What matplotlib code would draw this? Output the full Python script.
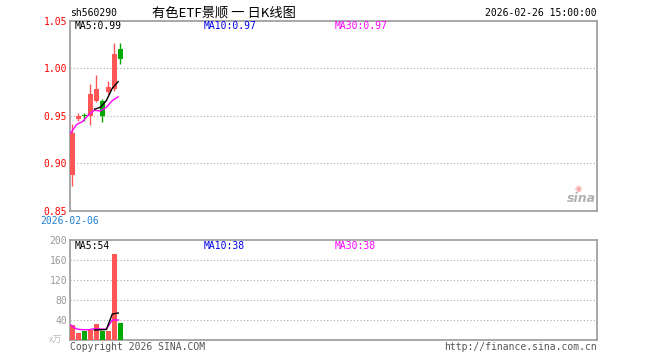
import matplotlib
matplotlib.use("Agg")
import matplotlib.pyplot as plt
import numpy as np

# ---- data ----
first_date = "2026-02-06"
opens  = [0.8875, 0.947, 0.9505, 0.950, 0.9656, 0.9656, 0.975, 0.9778, 1.0205]
closes = [0.932, 0.950, 0.9495, 0.9726, 0.978, 0.950, 0.980, 1.0153, 1.0098]
highs  = [0.941, 0.953, 0.953, 0.983, 0.9934, 0.9674, 0.9865, 1.0265, 1.027]
lows   = [0.876, 0.945, 0.945, 0.940, 0.9646, 0.9434, 0.9726, 0.976, 1.0046]
ma5_price  = [np.nan, np.nan, np.nan, np.nan, 0.957, 0.959, 0.966, 0.979, 0.986]
ma30_price = [0.932, 0.941, 0.944, 0.951, 0.956, 0.955, 0.959, 0.966, 0.970]
volumes  = [30, 14, 19, 20, 32, 19, 18, 172, 34]
ma5_vol  = [np.nan, np.nan, np.nan, np.nan, 20, 20.5, 21, 52, 54]
ma30_vol = [30, 22, 20.5, 20.5, 22.5, 22, 21.5, 40, 40]
price_ticks = [0.85, 0.90, 0.95, 1.00, 1.05]
vol_ticks = [40, 80, 120, 160, 200]
labels_price = ("MA5:0.99", "MA10:0.97", "MA30:0.97")
labels_vol = ("MA5:54", "MA10:38", "MA30:38")

RED = "#FF5555"
GREEN = "#00A800"
MONO = "DejaVu Sans Mono"
CJK = ["Noto Sans CJK SC", "DejaVu Sans"]
FS = 7

W, H = 660, 360
fig = plt.figure(figsize=(6.6, 3.6), dpi=100)

def fx(px): return px / W
def fy(py): return 1 - py / H

ax = fig.add_axes([fx(70), fy(211), fx(527), (211 - 20.7) / H])
axv = fig.add_axes([fx(70), fy(340), fx(527), 100 / H])

n = len(opens)
x = np.arange(n)
xlim = (-0.42, -0.42 + 527 / 5.94)

for a in (ax, axv):
    a.set_xlim(*xlim)
    for s in a.spines.values():
        s.set_color("#999999")
        s.set_linewidth(1.2)
    a.tick_params(axis="x", length=0, labelbottom=False)
    a.tick_params(axis="y", length=0, pad=2)

# price panel
ax.set_ylim(0.85, 1.05)
ax.set_yticks(price_ticks)
ax.set_yticklabels([f"{v:.2f}" for v in price_ticks], color="#FF0000",
                   fontfamily=MONO, fontsize=FS)
for g in price_ticks[1:-1]:
    ax.axhline(g, color="#AAAAAA", lw=0.8, ls=(0, (1, 2)), zorder=0)

bw = 0.84
for i in range(n):
    up = closes[i] >= opens[i] and not (i == 2)
    c = RED if up else GREEN
    ax.vlines(x[i], lows[i], highs[i], color=c, lw=1.0, zorder=2)
    lo = min(opens[i], closes[i]); hi = max(opens[i], closes[i])
    hgt = max(hi - lo, 0.0008)
    ax.bar(x[i], hgt, bottom=lo, width=bw, color=c, linewidth=0, zorder=3)

shift = -0.3
ax.plot(x + shift, ma30_price, color="#FF00FF", lw=1.0, zorder=4)
ax.plot(x + shift, ma5_price, color="black", lw=1.0, zorder=5)

# volume panel
axv.set_ylim(0, 200)
axv.set_yticks(vol_ticks)
axv.set_yticklabels([str(v) for v in vol_ticks], color="#999999",
                    fontfamily=MONO, fontsize=FS)
for g in vol_ticks[:-1]:
    axv.axhline(g, color="#AAAAAA", lw=0.8, ls=(0, (1, 2)), zorder=0)
vcolors = [RED if (closes[i] >= opens[i] and i != 2) else GREEN for i in range(n)]
axv.bar(x, volumes, width=bw, color=vcolors, linewidth=0, zorder=3)
axv.plot(x + shift, ma30_vol, color="#FF00FF", lw=1.0, zorder=4)
axv.plot(x + shift, ma5_vol, color="black", lw=1.0, zorder=5)

# texts
def t(px, py, s, **kw):
    kw.setdefault("fontfamily", MONO)
    kw.setdefault("fontsize", FS)
    kw.setdefault("va", "center")
    fig.text(fx(px), fy(py), s, **kw)

t(70, 13, "sh560290", color="black")
t(224, 13, "有色ETF景顺 一 日K线图", color="black", ha="center",
  fontfamily=CJK, fontsize=9.5)
t(597, 13, "2026-02-26 15:00:00", color="black", ha="right")

t(75, 26, labels_price[0], color="black")
t(204, 26, labels_price[1], color="#0000EE")
t(335, 26, labels_price[2], color="#FF00FF")

t(70, 221, first_date, color="#1E7FD0", ha="center")

t(75, 246, labels_vol[0], color="black")
t(204, 246, labels_vol[1], color="#0000EE")
t(335, 246, labels_vol[2], color="#FF00FF")

t(56, 340, "x万", color="#BBBBBB", ha="center", fontfamily=CJK, fontsize=6.5)
t(70, 347, "Copyright 2026 SINA.COM", color="#555555")
t(597, 347, "http://finance.sina.com.cn", color="#555555", ha="right")

# sina watermark
t(581, 199, "sina", color="#B0B0B0", ha="center", fontfamily="DejaVu Sans",
  fontsize=9, fontweight="bold", style="italic")
t(578, 189, "◉", color="#F4A0A0", ha="center", fontfamily="DejaVu Sans", fontsize=6)

fig.savefig("out.png", dpi=100)
